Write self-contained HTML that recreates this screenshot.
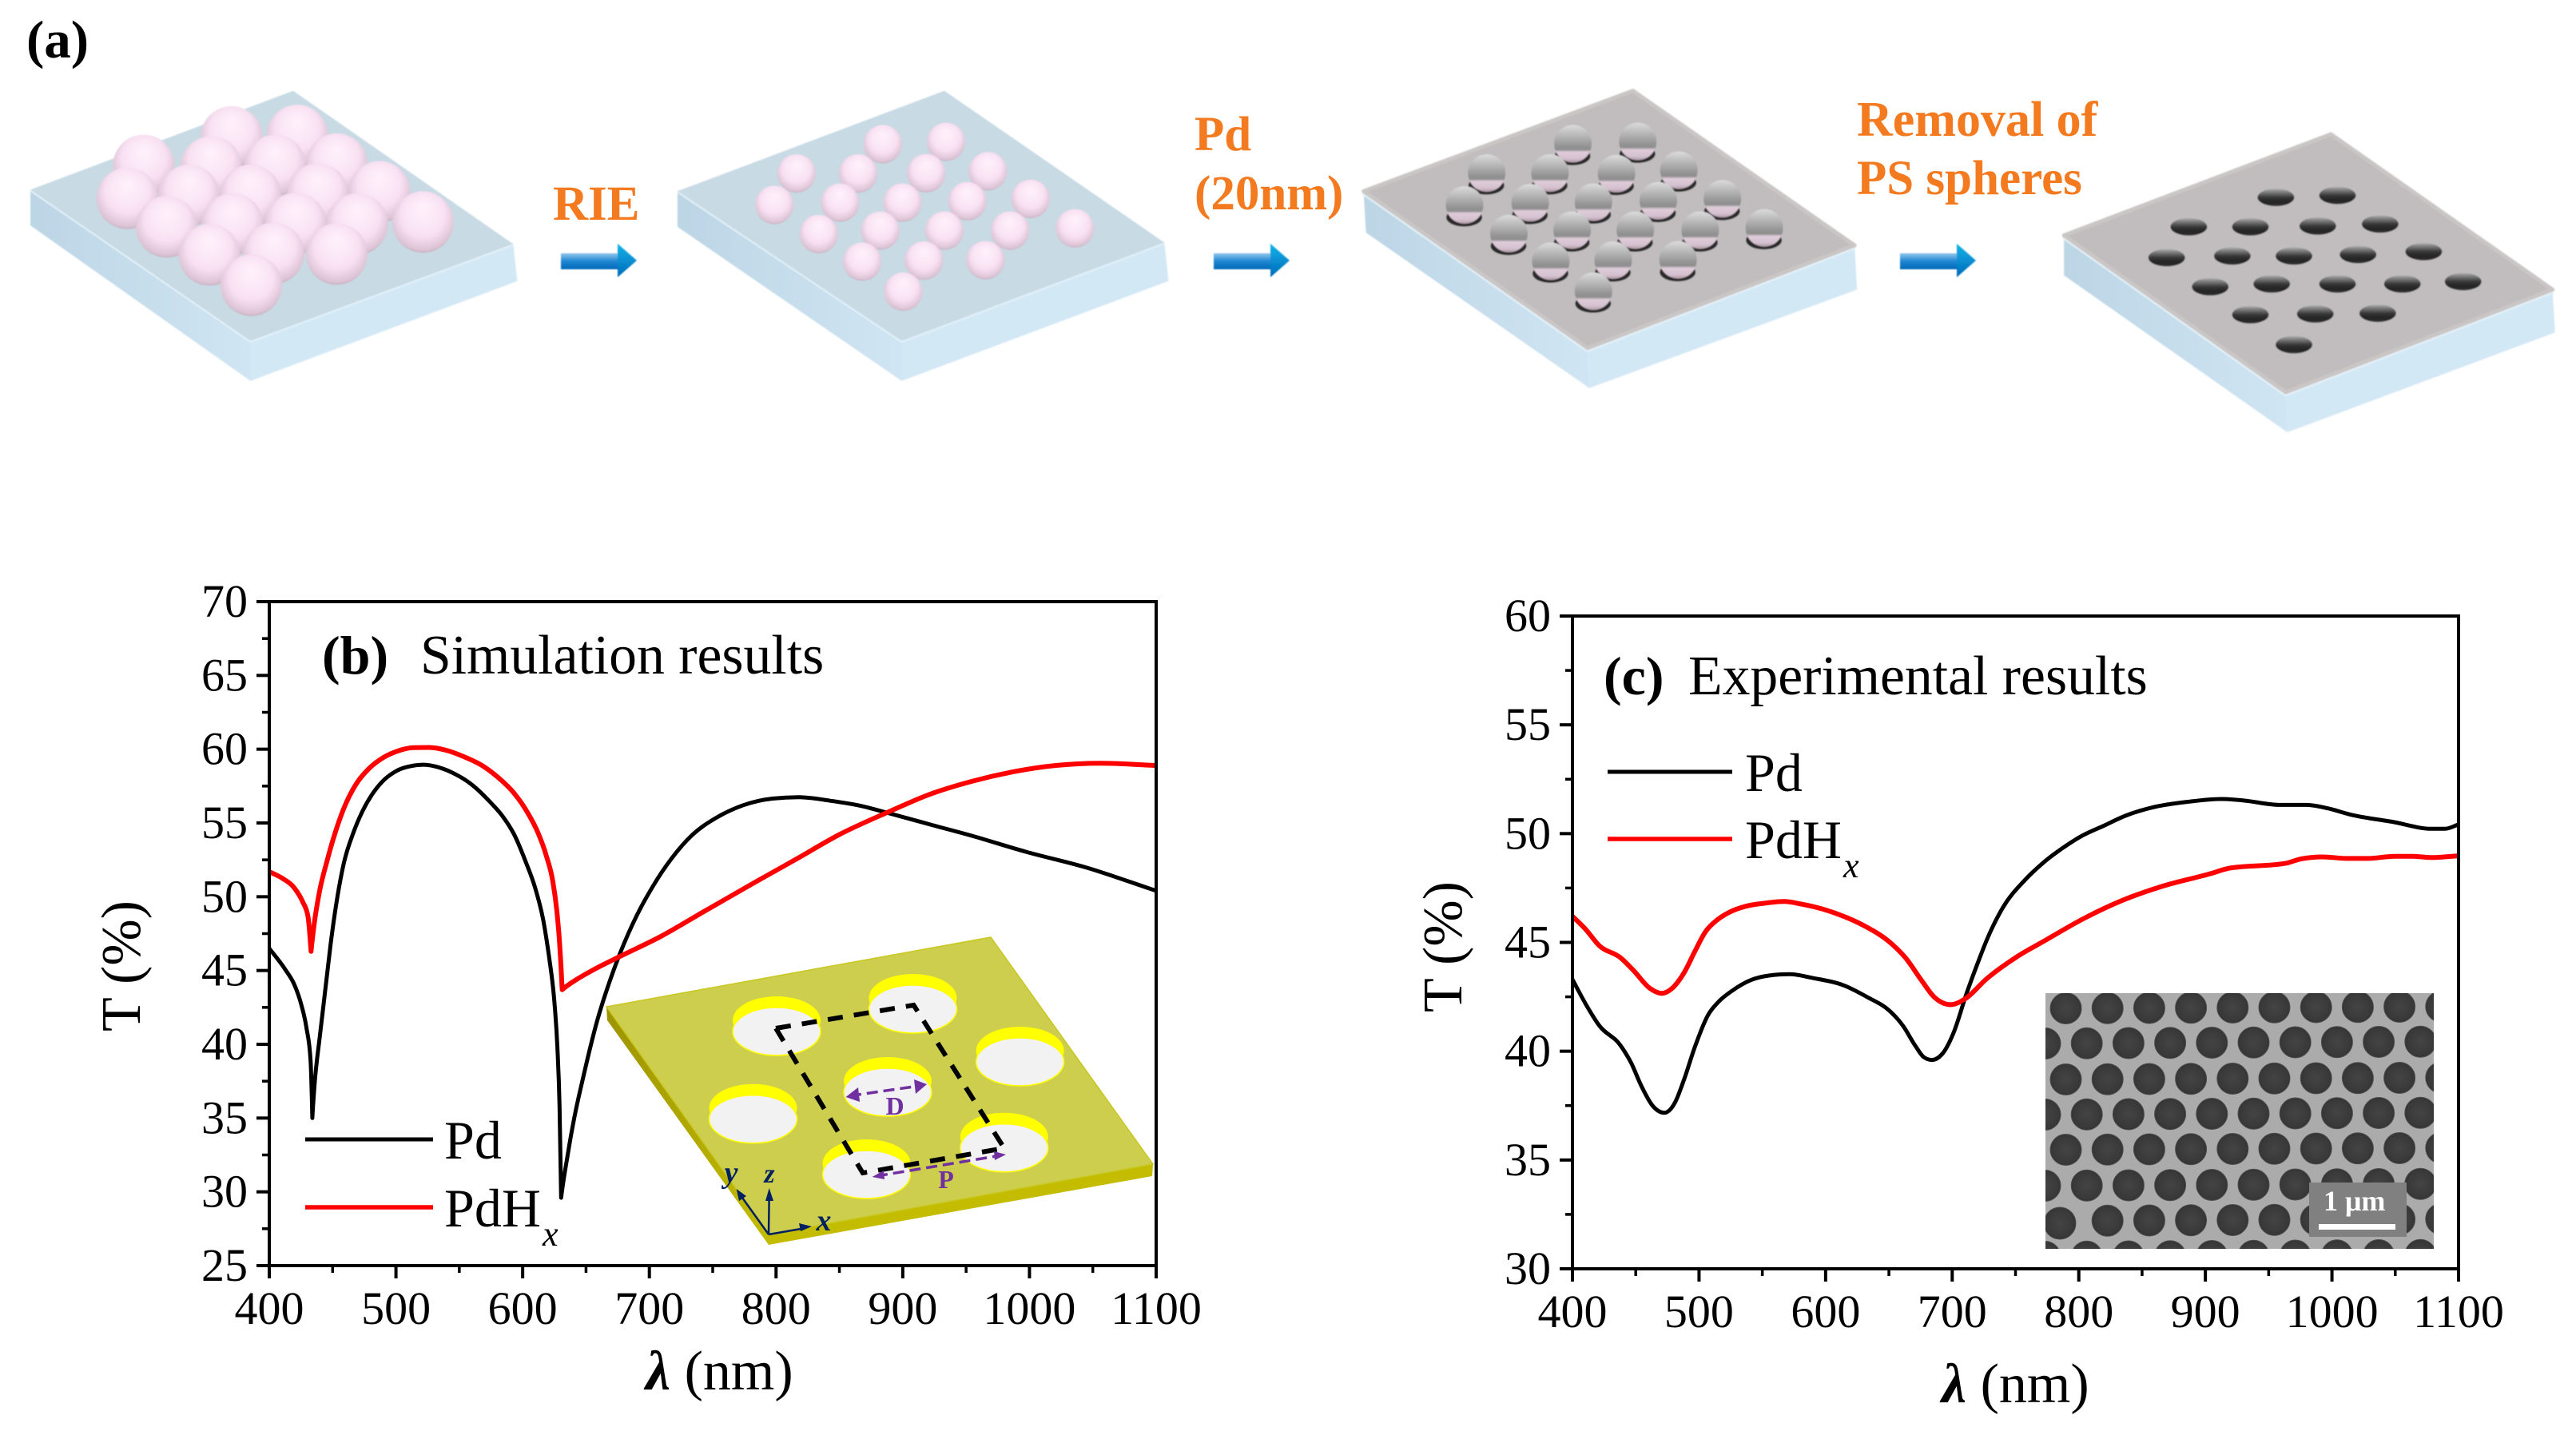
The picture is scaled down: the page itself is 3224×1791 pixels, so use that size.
<!DOCTYPE html>
<html lang="en">
<head>
<meta charset="utf-8">
<title>Pd nanohole fabrication and transmission spectra</title>
<style>
html,body{margin:0;padding:0;background:#fff}
svg{display:block}
text{font-family:"Liberation Serif","DejaVu Serif",serif;fill:#000}
.tick{font-size:58px}
.big{font-size:68px}
.title{font-size:69.7px}
.axis-title{font-size:70px}
.step{font-size:61px;font-weight:bold;fill:#f47a20}
</style>
</head>
<body>
<svg id="fig" xmlns="http://www.w3.org/2000/svg" width="3224" height="1791" viewBox="0 0 3224 1791">
<defs>
  <radialGradient id="gPink" cx="0.5" cy="0.45" r="0.6" fx="0.5" fy="0.26">
    <stop offset="0" stop-color="#fff2fc"/><stop offset="0.6" stop-color="#f8e1f2"/><stop offset="0.88" stop-color="#dcc4d5"/><stop offset="1" stop-color="#b09ca9"/>
  </radialGradient>
  <linearGradient id="gCap" x1="0" y1="0" x2="0" y2="1">
    <stop offset="0" stop-color="#dcdcdc"/><stop offset="0.18" stop-color="#c4c4c4"/><stop offset="0.58" stop-color="#929292"/><stop offset="0.66" stop-color="#8e8e8e"/><stop offset="0.72" stop-color="#dfccd9"/><stop offset="0.9" stop-color="#d4c0ce"/><stop offset="1" stop-color="#ab97a3"/>
  </linearGradient>
  <linearGradient id="gHole" x1="0" y1="0" x2="0" y2="1">
    <stop offset="0" stop-color="#b4b4b4"/><stop offset="0.14" stop-color="#8c8c8c"/><stop offset="0.52" stop-color="#333"/><stop offset="0.8" stop-color="#232323"/><stop offset="1" stop-color="#3a3a3a"/>
  </linearGradient>
  <linearGradient id="gArrow" x1="0" y1="0" x2="0" y2="1">
    <stop offset="0" stop-color="#8fc6ec"/><stop offset="0.5" stop-color="#1f86d2"/><stop offset="1" stop-color="#0068b8"/>
  </linearGradient>
  <linearGradient id="gHead" x1="0" y1="0" x2="0" y2="1">
    <stop offset="0" stop-color="#10b4ea"/><stop offset="1" stop-color="#0068b8"/>
  </linearGradient>
  <linearGradient id="gLeft" x1="0" y1="0" x2="1" y2="0">
    <stop offset="0" stop-color="#bcd5e5"/><stop offset="1" stop-color="#d0e5f3"/>
  </linearGradient>
  <linearGradient id="gPlateLeft" x1="0" y1="0" x2="1" y2="1">
    <stop offset="0" stop-color="#9c9400"/><stop offset="1" stop-color="#c4bc00"/>
  </linearGradient>
  <radialGradient id="gSem" cx="0.5" cy="0.5" r="0.5">
    <stop offset="0" stop-color="#444"/><stop offset="0.85" stop-color="#393939"/><stop offset="1" stop-color="#333"/>
  </radialGradient>
  <filter id="soft" x="-2%" y="-2%" width="104%" height="104%"><feGaussianBlur stdDeviation="0.9"/></filter>
  <clipPath id="semClip"><rect x="2560" y="1243" width="486" height="320"/></clipPath>
</defs>

<rect x="0" y="0" width="3224" height="1791" fill="#fff"/>

<text x="33" y="72" font-size="67" font-weight="bold">(a)</text>
<g id="scene" filter="url(#soft)"></g>

<text class="step" x="692" y="275">RIE</text>
<text class="step" x="1495" y="188">Pd</text>
<text class="step" x="1495" y="262">(20nm)</text>
<text class="step" x="2324" y="170" style="font-size:62px">Removal of</text>
<text class="step" x="2324" y="243">PS spheres</text>

<g id="plotB"></g>
<g id="plotC"></g>

<!-- inset in panel b -->
<g>
  <polygon points="759,1260 962,1545 962,1558 760,1277" fill="url(#gPlateLeft)"/>
  <polygon points="962,1545 1443,1457 1442,1472 962,1558" fill="#c4bc00"/>
  <polygon points="759,1260 1240,1173 1443,1457 962,1545" fill="#cdcd4e" stroke="#c8c820" stroke-width="1.5"/>
  <g id="insetHoles"></g>
  <polyline points="971,1287 1143.5,1258 1256.8,1437 1079.8,1468 971,1287" fill="none" stroke="#000" stroke-width="6" stroke-dasharray="19 14"/>
  <line x1="1064" y1="1371.5" x2="1154" y2="1358.5" stroke="#7030a0" stroke-width="3.5" stroke-dasharray="14 7"/>
  <polygon points="1058.5,1373 1074,1361 1076,1379" fill="#7030a0"/>
  <polygon points="1160,1357 1144,1351 1146,1369" fill="#7030a0"/>
  <text x="1120" y="1395" font-size="32" font-weight="bold" text-anchor="middle" style="fill:#7030a0">D</text>
  <line x1="1097" y1="1472" x2="1253" y2="1446" stroke="#7030a0" stroke-width="3.5" stroke-dasharray="14 7"/>
  <polygon points="1091.6,1473 1106,1465 1107,1476" fill="#7030a0"/>
  <polygon points="1259,1445 1244,1441 1245,1452" fill="#7030a0"/>
  <text x="1184" y="1487" font-size="32" font-weight="bold" text-anchor="middle" style="fill:#7030a0">P</text>
  <line x1="962" y1="1545" x2="924" y2="1492" stroke="#002060" stroke-width="2.5"/>
  <polygon points="921.7,1488 934,1497 925,1503" fill="#002060"/>
  <line x1="962" y1="1545" x2="962.7" y2="1495" stroke="#002060" stroke-width="2.5"/>
  <polygon points="962.7,1487 958,1503 968,1503" fill="#002060"/>
  <line x1="962" y1="1545" x2="1008" y2="1537" stroke="#002060" stroke-width="2.5"/>
  <polygon points="1016,1535 1000,1531 1002,1541" fill="#002060"/>
  <text x="915" y="1480" font-size="38" font-weight="bold" font-style="italic" text-anchor="middle" style="fill:#002060">y</text>
  <text x="963" y="1480" font-size="34" font-weight="bold" font-style="italic" text-anchor="middle" style="fill:#002060">z</text>
  <text x="1031" y="1540" font-size="38" font-weight="bold" font-style="italic" text-anchor="middle" style="fill:#002060">x</text>
</g>

<!-- SEM inset in panel c -->
<g>
  <rect x="2560" y="1243" width="486" height="320" fill="#ababab"/>
  <g id="semHoles" clip-path="url(#semClip)"></g>
  <rect x="2890" y="1480" width="122" height="68" fill="#808080"/>
  <text x="2908" y="1515" font-size="36" font-weight="bold" style="fill:#fff">1 μm</text>
  <rect x="2902" y="1532" width="96" height="7" fill="#fff"/>
</g>
</svg>

<script>
// ---------- panel (b) data: simulation ----------
const bPdWavelengths = [400,412.6,420,425.2,429.4,432.6,434,435.7,440,444.1,448.3,453.6,458.9,466.2,473.6,480.9,490.4,500.9,511.4,521.9,534.5,547,559.8,574.5,585,593.4,601.8,610.2,616.5,620.7,625,627.4,629.1,630.4,635.7,640.7,648,658.5,669,677.5,689.9,702.5,717.2,734,752.9,774,797,818,843.3,866.4,887.4,923.2,955.8,997,1044,1100];
const bPdValues = [46.5,45.07,44,42.7,41.1,38.9,35,37.2,40.6,43.6,46.7,49.9,52.3,54.3,55.8,56.9,57.9,58.55,58.85,58.95,58.75,58.3,57.6,56.4,55.36,54.2,52.5,50.5,48.3,46,42.9,39.8,35.8,29.6,32.6,35,37.85,41.5,44.35,46.3,48.7,50.67,52.56,54.2,55.36,56.2,56.65,56.75,56.5,56.17,55.7,54.86,54.1,53.05,52,50.4];
const bPdHxWavelengths = [400,410.5,420,426.3,430.5,433,435.7,440,445.2,451.5,458.9,468.3,478.8,490.4,503,513.5,526,538.7,553.4,568.2,580.8,593.4,603.9,612.3,618.6,623.9,627,629.1,631.2,641.7,656.3,676.2,708.8,742.4,784.4,818,849.6,887.4,923.2,955.8,986,1021,1056,1100];
const bPdHxValues = [51.7,51.24,50.57,49.67,48.68,46.3,48.3,50.5,52.3,54.2,56,57.6,58.7,59.45,59.92,60.1,60.12,59.95,59.5,58.88,58.07,57,55.7,54.3,52.8,51,49,46.9,43.7,44.35,45.07,45.93,47.3,48.96,51.03,52.65,54.2,55.7,57,57.85,58.45,58.9,59.05,58.9];
const bXTicks = ["400","500","600","700","800","900","1000","1100"];
const bYTicks = ["25","30","35","40","45","50","55","60","65","70"];

// ---------- panel (c) data: experiment ----------
const cPdWavelengths = [400,410.5,421,437.9,446.3,454.7,463.1,472.6,481,488.4,496.8,507.3,515.7,526.2,541,555.7,571.5,589.4,614.6,633.5,650.4,660.9,671.4,677.7,684,692.5,700.9,711.4,719.8,727.2,740,758,773.7,786.3,801,820,836.8,857.9,887.3,912.6,929.4,958.9,979.9,996.7,1015.7,1047.2,1078.8,1089.3,1100];
const cPdValues = [43.3,42.17,41.19,40.27,39.47,38.37,37.51,37.17,37.64,38.74,40.21,41.68,42.29,42.78,43.27,43.48,43.54,43.37,43.02,42.47,41.86,41.19,40.2,39.72,39.6,39.9,40.82,42.66,44,45.1,46.6,47.9,48.75,49.3,49.85,50.37,50.82,51.2,51.47,51.59,51.53,51.32,51.32,51.16,50.86,50.55,50.22,50.22,50.42];
const cPdHxWavelengths = [400,410.5,421,437.9,448.4,461,470.5,478.9,488.4,496.8,505.2,513.6,524.1,536.8,551.5,567.3,581,608.3,629.3,652.5,663,675.6,686.1,698.8,710.3,727.2,750,773.7,805.3,834.7,864.2,904.2,918.9,963,975.7,992.5,1011.5,1028.3,1049.3,1064,1079,1100];
const cPdHxValues = [46.2,45.6,44.86,44.3,43.7,42.9,42.66,42.9,43.63,44.6,45.5,46,46.39,46.66,46.8,46.88,46.76,46.33,45.8,44.92,44.3,43.27,42.47,42.14,42.41,43.33,44.3,45.1,46.14,46.94,47.55,48.16,48.41,48.63,48.84,48.93,48.86,48.86,48.96,48.96,48.9,48.98];
const cXTicks = ["400","500","600","700","800","900","1000","1100"];
const cYTicks = ["30","35","40","45","50","55","60"];

const NS = "http://www.w3.org/2000/svg";
function mk(tag, parent, attrs, txt){
  const e = document.createElementNS(NS, tag);
  for(const k in attrs) e.setAttribute(k, attrs[k]);
  if(txt !== undefined) e.textContent = txt;
  parent.appendChild(e);
  return e;
}

// Monotone cubic through the points, keeping sharp resonance dips as true corners.
function curvePath(xs, ys, xAt, yAt){
  const n = xs.length, px = xs.map(xAt), py = ys.map(yAt);
  const slopeData = i => (ys[i+1]-ys[i])/(xs[i+1]-xs[i]);
  const isCusp = i => {
    if(i <= 0 || i >= n-1) return false;
    const a = slopeData(i-1), b = slopeData(i);
    return a*b < 0 && Math.min(Math.abs(a), Math.abs(b)) > 0.045;
  };
  const seg = i => (py[i+1]-py[i])/(px[i+1]-px[i]);
  const tan = [], tanIn = [];
  for(let i = 0; i < n; i++){
    if(i === 0){ tan[i] = seg(0); tanIn[i] = tan[i]; continue; }
    if(i === n-1){ tan[i] = seg(n-2); tanIn[i] = tan[i]; continue; }
    const s0 = seg(i-1), s1 = seg(i), h0 = px[i]-px[i-1], h1 = px[i+1]-px[i];
    if(isCusp(i)){ tanIn[i] = s0*1.25; tan[i] = s1*1.25; continue; }
    let t = 0;
    if(s0*s1 > 0){
      const p = (s0*h1+s1*h0)/(h0+h1);
      t = Math.sign(s0)*Math.min(Math.abs(p), 2*Math.abs(s0), 2*Math.abs(s1));
    }
    tan[i] = t; tanIn[i] = t;
  }
  let d = "M"+px[0].toFixed(1)+" "+py[0].toFixed(1);
  for(let i = 0; i < n-1; i++){
    const h = (px[i+1]-px[i])/3;
    d += "C"+(px[i]+h).toFixed(1)+" "+(py[i]+tan[i]*h).toFixed(1)+" "+(px[i+1]-h).toFixed(1)+" "+(py[i+1]-tanIn[i+1]*h).toFixed(1)+" "+px[i+1].toFixed(1)+" "+py[i+1].toFixed(1);
  }
  return d;
}

function drawPanel(root, c){
  const xMin = Number(c.xTicks[0]), xMax = Number(c.xTicks[c.xTicks.length-1]);
  const yMin = Number(c.yTicks[0]), yMax = Number(c.yTicks[c.yTicks.length-1]);
  const xAt = v => c.left + (v - xMin) / (xMax - xMin) * (c.right - c.left);
  const yAt = v => c.bottom - (v - yMin) / (yMax - yMin) * (c.bottom - c.top);

  const pd = mk("path", root, {d: curvePath(c.pdX, c.pdY, xAt, yAt), fill:"none", stroke:"#000", "stroke-width":5, "stroke-linejoin":"round"});
  
  
  const hx = mk("path", root, {d: curvePath(c.hxX, c.hxY, xAt, yAt), fill:"none", stroke:"#ff0000", "stroke-width":6, "stroke-linejoin":"round"});
  
  

  const box = mk("rect", root, {x:c.left, y:c.top, width:c.right-c.left, height:c.bottom-c.top, fill:"none", stroke:"#000", "stroke-width":4});
  
  

  const xStep = Number(c.xTicks[1]) - xMin;
  for(let i = 0; i < c.xTicks.length; i++){
    const v = Number(c.xTicks[i]);
    const t = mk("line", root, {x1:xAt(v), x2:xAt(v), y1:c.bottom, y2:c.bottom+16, stroke:"#000", "stroke-width":4});
    
    
    const l = mk("text", root, {x:xAt(v), y:c.xLabelY, class:"tick", "text-anchor":"middle"}, c.xTicks[i]);
    
    
    if(i < c.xTicks.length-1){
      const m = mk("line", root, {x1:xAt(v+xStep/2), x2:xAt(v+xStep/2), y1:c.bottom, y2:c.bottom+9, stroke:"#000", "stroke-width":3.5});
      
      
    }
  }
  const yStep = Number(c.yTicks[1]) - yMin;
  for(let i = 0; i < c.yTicks.length; i++){
    const v = Number(c.yTicks[i]);
    const t = mk("line", root, {x1:c.left-16, x2:c.left, y1:yAt(v), y2:yAt(v), stroke:"#000", "stroke-width":4});
    
    
    const l = mk("text", root, {x:c.yLabelX, y:yAt(v)+19, class:"tick", "text-anchor":"end"}, c.yTicks[i]);
    
    
    if(i < c.yTicks.length-1){
      const m = mk("line", root, {x1:c.left-9, x2:c.left, y1:yAt(v+yStep/2), y2:yAt(v+yStep/2), stroke:"#000", "stroke-width":3.5});
      
      
    }
  }

  const tag = mk("text", root, {x:c.tagX, y:c.titleY, class:"big", "font-weight":"bold"}, c.tag);
  
  
  const ttl = mk("text", root, {x:c.titleX, y:c.titleY, class:"title"}, c.title);
  
  

  const k1 = mk("line", root, {x1:c.legX1, x2:c.legX2, y1:c.legY1, y2:c.legY1, stroke:"#000", "stroke-width":5});
  
  
  const t1 = mk("text", root, {x:c.legTextX, y:c.legY1+24, class:"big"}, "Pd");
  
  
  const k2 = mk("line", root, {x1:c.legX1, x2:c.legX2, y1:c.legY2, y2:c.legY2, stroke:"#ff0000", "stroke-width":5.5});
  
  
  const t2 = mk("text", root, {x:c.legTextX, y:c.legY2+24, class:"big"}, "PdH");
  
  
  const t3 = mk("text", root, {x:c.legTextX+123, y:c.legY2+48, "font-size":44, "font-style":"italic"}, "x");
  
  

  const xt = mk("text", root, {x:c.xTitleX, y:c.xTitleY, class:"axis-title"});
  
  
  mk("tspan", xt, {"font-weight":"bold", "font-style":"italic"}, "λ");
  mk("tspan", xt, {}, " (nm)");

  const yt = mk("text", root, {transform:"translate("+c.yTitleX+" "+c.yTitleY+") rotate(-90)", class:"axis-title", "text-anchor":"middle"}, "T (%)");
  
  
}

drawPanel(document.getElementById("plotB"), {
  left:337, right:1447, top:753, bottom:1584,
  xTicks:bXTicks, yTicks:bYTicks, pdX:bPdWavelengths, pdY:bPdValues, hxX:bPdHxWavelengths, hxY:bPdHxValues,
  xLabelY:1657, yLabelX:310, tag:"(b)", tagX:403, title:"Simulation results", titleX:526, titleY:843,
  legX1:382, legX2:542, legY1:1426, legY2:1511, legTextX:556, xTitleX:808, xTitleY:1739, yTitleX:175, yTitleY:1209
});
drawPanel(document.getElementById("plotC"), {
  left:1968, right:3077, top:771, bottom:1588,
  xTicks:cXTicks, yTicks:cYTicks, pdX:cPdWavelengths, pdY:cPdValues, hxX:cPdHxWavelengths, hxY:cPdHxValues,
  xLabelY:1661, yLabelX:1941, tag:"(c)", tagX:2007, title:"Experimental results", titleX:2113, titleY:869,
  legX1:2012, legX2:2168, legY1:966, legY2:1050, legTextX:2184, xTitleX:2430, xTitleY:1755, yTitleX:1829, yTitleY:1185
});

// ---------- fabrication schematic ----------
const scene = document.getElementById("scene");
function pt(p, off){ return [(p[0]/0.973 + off).toFixed(1), (p[1]/2.8).toFixed(1)]; }
function poly(parent, pts, off, fill){
  return mk("polygon", parent, {points: pts.map(p => pt(p, off).join(",")).join(" "), fill: fill});
}
function slab(off, s, topFill, rim){
  const g = mk("g", scene, {});
  
  
  poly(g, [s.tl, s.b, s.bb, s.ll], off, "url(#gLeft)");
  poly(g, [s.b, s.r, s.rr, s.bb], off, "#d3e8f5");
  const pts = [s.tl, s.b, s.r].map(p => pt(p, off).join(",")).join(" ");
  mk("polyline", g, {points: pts, fill:"none", stroke:"#e6f3fa", "stroke-width": rim ? 9 : 3.5, "stroke-linejoin":"round"});
  const top = poly(g, [s.tl, s.t, s.r, s.b], off, topFill);
  if(rim){
    top.setAttribute("stroke", rim);
    top.setAttribute("stroke-width", "5");
    top.setAttribute("stroke-linejoin", "round");
  }
}
const slab1 = {tl:[37,665], t:[357,318], r:[625,855], b:[305,1195], ll:[37,790], bb:[305,1335], rr:[630,985]};
const slab2 = {tl:[825,670], t:[1150,318], r:[1418,850], b:[1098,1195], ll:[825,795], bb:[1098,1335], rr:[1423,985]};
const slab3 = {tl:[92,670], t:[420,318], r:[690,860], b:[365,1220], ll:[95,815], bb:[367,1360], rr:[693,1015]};
const slab4 = {tl:[945,825], t:[1270,470], r:[1540,1015], b:[1215,1375], ll:[945,965], bb:[1217,1515], rr:[1543,1165]};
slab(0, slab1, "#c8dae4");
slab(0, slab2, "#c8dae4");
slab(1612, slab3, "#c1bdbe", "#cac6c6");
slab(1612, slab4, "#c1bdbe", "#cac6c6");

const spheres1 = [[282,480],[362,475],[175,580],[257,585],[335,580],[410,575],[155,695],[230,685],[305,685],[387,680],[462,672],[203,795],[283,785],[360,783],[435,785],[515,778],[255,893],[333,888],[410,890],[306,1000]];
const spheres2 = [[1075,505],[1152,497],[970,608],[1045,608],[1128,607],[1203,600],[943,718],[1023,710],[1099,710],[1178,705],[1255,697],[997,820],[1072,808],[1150,808],[1230,808],[1309,800],[1050,917],[1125,913],[1200,912],[1100,1022]];
const spheres3 = [[347,505],[426,497],[242,608],[319,608],[400,610],[476,598],[215,720],[295,712],[372,710],[451,705],[529,698],[269,820],[346,808],[423,808],[502,808],[580,800],[320,917],[396,913],[475,912],[372,1022]];
const holes4 = [[1203,692],[1278,685],[1097,795],[1172,795],[1254,792],[1330,785],[1070,903],[1150,897],[1225,897],[1303,892],[1383,882],[1123,1005],[1198,995],[1278,995],[1357,995],[1431,987],[1172,1103],[1251,1100],[1327,1098],[1225,1208]];

for(const p of spheres1){
  const q = pt(p, 0);
  const e = mk("circle", scene, {cx:q[0], cy:q[1], r:38.5, fill:"url(#gPink)"});
  
  
}
for(const p of spheres2){
  const q = pt(p, 0);
  const e = mk("circle", scene, {cx:q[0], cy:q[1], r:24, fill:"url(#gPink)"});
  
  
}
for(const p of spheres3){
  const q = pt(p, 1612);
  const cy = Number(q[1]), cx = Number(q[0]);
  const hole = mk("ellipse", scene, {cx:cx-0.5, cy:cy+15, rx:22.5, ry:11.5, fill:"#2c2a2c"});
  
  
  const e = mk("circle", scene, {cx:cx, cy:cy-0.5, r:23.5, fill:"url(#gCap)"});
  
  
}
for(const p of holes4){
  const q = pt(p, 1612);
  const e = mk("ellipse", scene, {cx:q[0], cy:q[1], rx:23, ry:11, fill:"url(#gHole)"});
  
  
}
const arrowStarts = [702, 1519, 2378];
for(const a of arrowStarts){
  const g = mk("g", scene, {});
  
  
  mk("rect", g, {x:a, y:317, width:72, height:20, fill:"url(#gArrow)"});
  mk("polygon", g, {points:(a+71)+",305 "+(a+95)+",326 "+(a+71)+",347", fill:"url(#gHead)"});
}

// ---------- plate holes in panel (b) inset ----------
const insetHoleCentres = [[972,1291],[1142.5,1263],[1276.6,1329],[1111,1367],[942.5,1400.7],[1084.5,1470],[1256.8,1436.7]];
const holeLayer = document.getElementById("insetHoles");
for(const c of insetHoleCentres){
  const wall = mk("ellipse", holeLayer, {cx:c[0], cy:c[1]-14, rx:55, ry:30, fill:"#ffff00"});
  
  
  const floor = mk("ellipse", holeLayer, {cx:c[0], cy:c[1], rx:55, ry:30, fill:"#f2f2f2", stroke:"#ffff00", "stroke-width":1.5});
  
  
}

// ---------- SEM holes ----------
const semLayer = document.getElementById("semHoles");
const semRows = [1262,1306,1351,1395,1439,1484,1528,1573];
semRows.forEach(function(y, r){
  const start = r % 2 ? 2559.5 : 2585.5;
  for(let i = 0; i < 10; i++){
    if(r === 6 && i === 0) continue;
    const x = start + i*52.2;
    const e = mk("circle", semLayer, {cx:x, cy:y - i*0.25, r:19.5, fill:"url(#gSem)", stroke:"#4e4e4e", "stroke-width":1});
    
    
  }
});
const semOdd = mk("circle", semLayer, {cx:2578, cy:1531, r:20, fill:"url(#gSem)", stroke:"#4e4e4e", "stroke-width":1});


</script>
</body>
</html>
